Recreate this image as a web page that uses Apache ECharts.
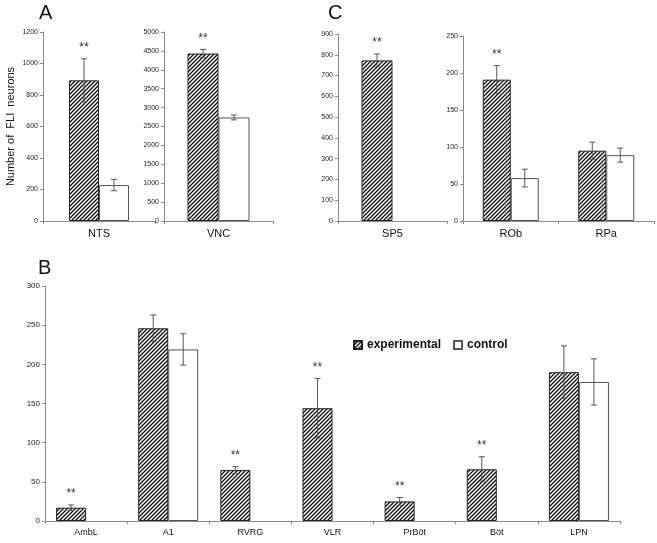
<!DOCTYPE html>
<html>
<head>
<meta charset="utf-8">
<script src="https://cdn.jsdelivr.net/npm/echarts@6/dist/echarts.min.js"></script>
<style>html,body{margin:0;padding:0;background:#fff}#c{width:657px;height:543px}</style>
</head>
<body>
<div id="c"></div>
<script>
// ---- data ----
const ntsCats = ['NTS'];
const ntsExp = [893], ntsExpErr = [137], ntsCtrl = [228], ntsCtrlErr = [36], ntsSig = [1];
const vncCats = ['VNC'];
const vncExp = [4430], vncExpErr = [110], vncCtrl = [2740], vncCtrlErr = [65], vncSig = [1];
const sp5Cats = ['SP5'];
const sp5Exp = [773], sp5ExpErr = [31], sp5Ctrl = ['-'], sp5CtrlErr = ['-'], sp5Sig = [1];
const robCats = ['ROb', 'RPa'];
const robExp = [191, 95], robExpErr = [19, 11.5], robCtrl = [58, 89], robCtrlErr = [12, 9.5], robSig = [1, 0];
const bCats = ['AmbL', 'A1', 'RVRG', 'VLR', 'PrBöt', 'Böt', 'LPN'];
const bExp = [17, 246, 65, 144, 25, 66, 190];
const bExpErr = [3.5, 17, 4.5, 38, 5, 16, 33.5];
const bCtrl = ['-', 219, '-', '-', '-', '-', 177.5];
const bCtrlErr = ['-', 20, '-', '-', '-', '-', 29.5];
const bSig = [1, 0, 1, 1, 1, 1, 0];
const yTicks = [
  {max: 1200, interval: 200},
  {max: 5000, interval: 500},
  {max: 900, interval: 100},
  {max: 250, interval: 50},
  {max: 300, interval: 50}
];

// ---- hatch pattern ----
const pc = document.createElement('canvas');
pc.width = 4; pc.height = 4;
const g = pc.getContext('2d');
g.fillStyle = '#fff'; g.fillRect(0, 0, 4, 4);
g.strokeStyle = '#111'; g.lineWidth = 1.3;
g.beginPath();
g.moveTo(0, 4); g.lineTo(4, 0);
g.moveTo(-1, 1); g.lineTo(1, -1);
g.moveTo(3, 5); g.lineTo(5, 3);
g.stroke();
const hatch = {image: pc, repeat: 'repeat'};

const FONT = 'Liberation Sans, Arial, sans-serif';
const grids = [
  {left: 43, top: 32, width: 112, height: 189},
  {left: 164, top: 32, width: 109, height: 189},
  {left: 338, top: 34, width: 109, height: 187},
  {left: 463, top: 36, width: 191, height: 185},
  {left: 45, top: 286, width: 575, height: 235}
];
const panels = [
  {cats: ntsCats, exp: ntsExp, expErr: ntsExpErr, ctrl: ntsCtrl, ctrlErr: ntsCtrlErr, sig: ntsSig, bw: 30},
  {cats: vncCats, exp: vncExp, expErr: vncExpErr, ctrl: vncCtrl, ctrlErr: vncCtrlErr, sig: vncSig, bw: 31},
  {cats: sp5Cats, exp: sp5Exp, expErr: sp5ExpErr, ctrl: sp5Ctrl, ctrlErr: sp5CtrlErr, sig: sp5Sig, bw: 31},
  {cats: robCats, exp: robExp, expErr: robExpErr, ctrl: robCtrl, ctrlErr: robCtrlErr, sig: robSig, bw: 28},
  {cats: bCats, exp: bExp, expErr: bExpErr, ctrl: bCtrl, ctrlErr: bCtrlErr, sig: bSig, bw: 30}
];

const xAxes = [], yAxes = [], series = [];
panels.forEach((p, i) => {
  const big = i === 4;
  xAxes.push({
    type: 'category', gridIndex: i, data: p.cats,
    axisLine: {lineStyle: {color: '#8a8a8a', width: 1}},
    axisTick: {show: true, length: 3, lineStyle: {color: '#8a8a8a'}},
    axisLabel: {fontSize: big ? 9 : 11, color: '#111', margin: big ? 7 : 7, fontFamily: FONT}
  });
  yAxes.push({
    type: 'value', gridIndex: i, min: 0, max: yTicks[i].max, interval: yTicks[i].interval,
    splitLine: {show: false},
    axisLine: {show: true, lineStyle: {color: '#8a8a8a', width: 1}},
    axisTick: {show: true, length: 3, lineStyle: {color: '#8a8a8a'}},
    axisLabel: {fontSize: big ? 8 : 7, color: '#222', margin: 5, fontFamily: FONT, formatter: v => String(v)},
    name: i === 0 ? 'Number of  FLI  neurons' : '',
    nameLocation: 'middle', nameRotate: 90, nameGap: 27,
    nameTextStyle: {fontSize: 11, color: '#111', fontFamily: FONT}
  });
  series.push({
    type: 'bar', name: 'experimental', xAxisIndex: i, yAxisIndex: i, data: p.exp,
    barWidth: p.bw, barGap: '0%',
    itemStyle: {color: hatch, borderColor: '#222', borderWidth: 1}
  });
  series.push({
    type: 'bar', name: 'control', xAxisIndex: i, yAxisIndex: i, data: p.ctrl,
    barWidth: p.bw, barGap: '0%',
    itemStyle: {color: '#fff', borderColor: '#555', borderWidth: 1}
  });
  [[p.exp, p.expErr, -1, p.sig], [p.ctrl, p.ctrlErr, 1, null]].forEach(([vals, errs, side, sig]) => {
    const d = [];
    vals.forEach((v, k) => { if (v !== '-') d.push([k, v, errs[k], sig ? sig[k] : 0]); });
    series.push({
      type: 'custom', xAxisIndex: i, yAxisIndex: i, data: d, clip: false, z: 5,
      silent: true,
      renderItem: function (params, api) {
        const k = api.value(0), v = api.value(1), e = api.value(2), s = api.value(3);
        const c = api.coord([k, v]);
        const t = api.coord([k, v + e]);
        const b = api.coord([k, Math.max(0, v - e)]);
        const x = c[0] + side * p.bw / 2;
        const st = {stroke: '#555', lineWidth: 1};
        const ch = [
          {type: 'line', shape: {x1: x, y1: t[1], x2: x, y2: b[1]}, style: st},
          {type: 'line', shape: {x1: x - 3, y1: t[1], x2: x + 3, y2: t[1]}, style: st},
          {type: 'line', shape: {x1: x - 3, y1: b[1], x2: x + 3, y2: b[1]}, style: st}
        ];
        if (s) ch.push({type: 'text', style: {text: '**', x: x, y: t[1] - 5, align: 'center', verticalAlign: 'bottom', fontSize: 12, fill: '#333', fontFamily: FONT}});
        return {type: 'group', children: ch};
      }
    });
  });
});

const chart = echarts.init(document.getElementById('c'), null, {renderer: 'canvas'});
chart.setOption({
  animation: false,
  backgroundColor: '#fff',
  grid: grids,
  xAxis: xAxes,
  yAxis: yAxes,
  series: series,
  legend: {
    data: ['experimental', 'control'],
    left: 348, top: 334, itemWidth: 8, itemHeight: 8, itemGap: 12,
    icon: 'rect', selectedMode: false,
    textStyle: {fontSize: 12, fontWeight: 'bold', color: '#111', fontFamily: FONT}
  },
  graphic: [
    {type: 'text', left: 39, top: 3, style: {text: 'A', fontSize: 20, fill: '#111', fontFamily: FONT}},
    {type: 'text', left: 328, top: 3, style: {text: 'C', fontSize: 20, fill: '#111', fontFamily: FONT}},
    {type: 'text', left: 38, top: 258, style: {text: 'B', fontSize: 20, fill: '#111', fontFamily: FONT}}
  ]
});
</script>
</body>
</html>
